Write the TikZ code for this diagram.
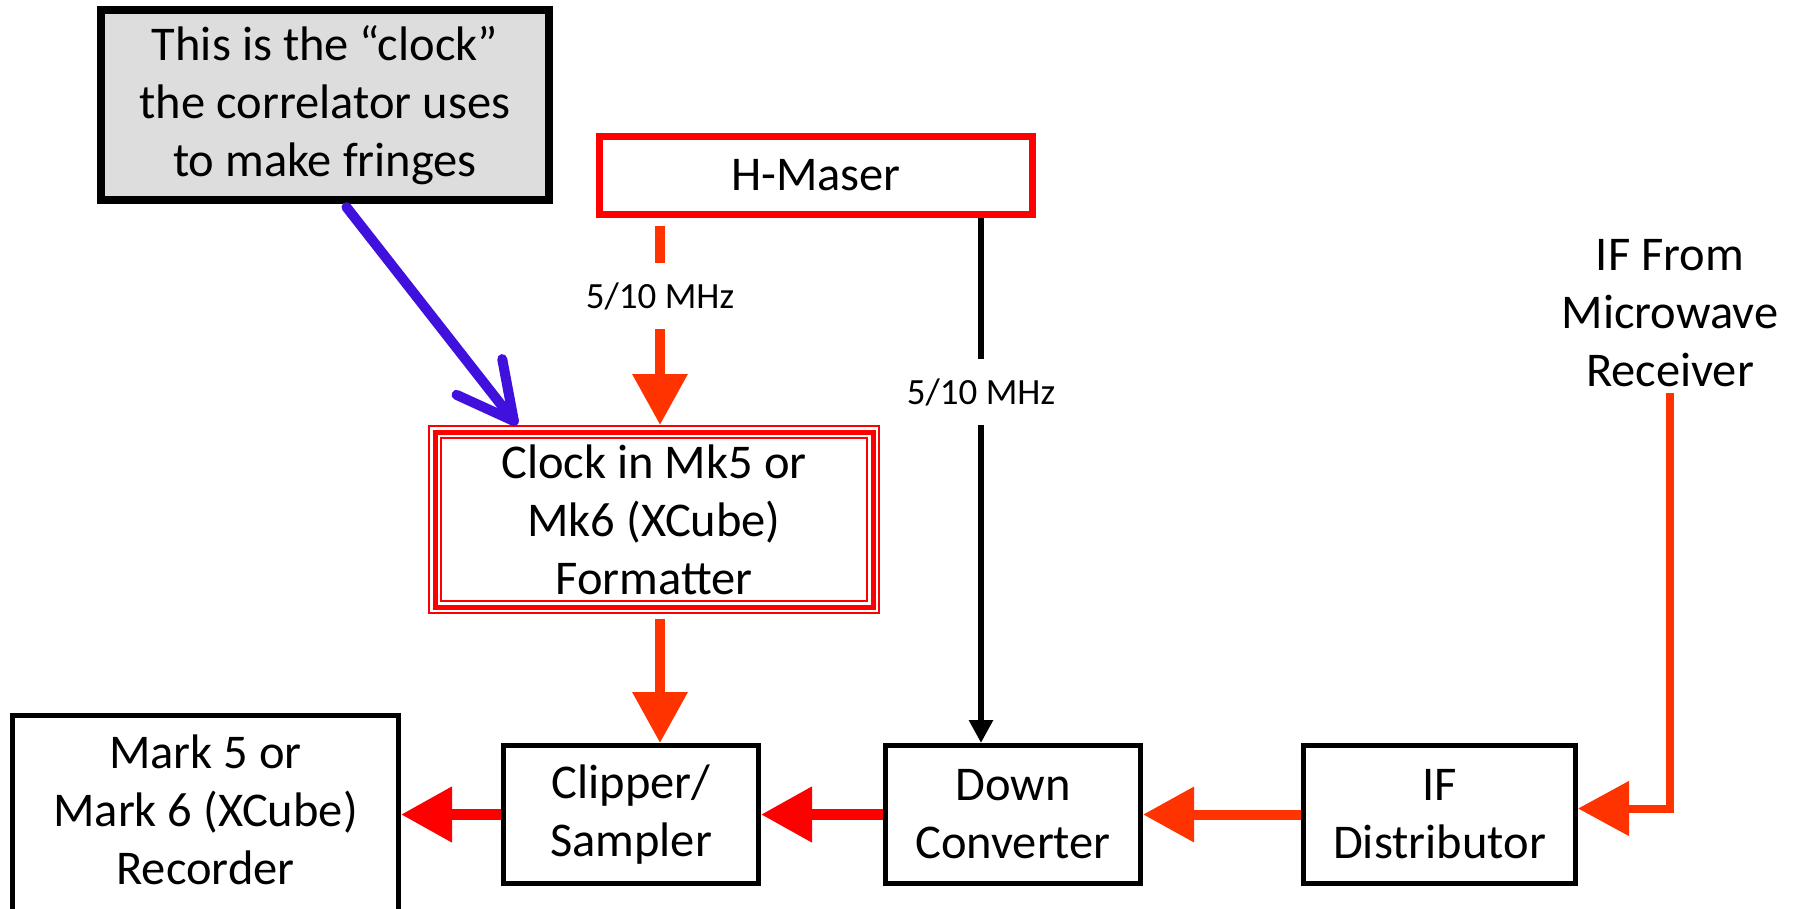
\documentclass[tikz,border=0pt]{standalone}
\usepackage{fontspec}
\setmainfont{Carlito}
\usetikzlibrary{arrows.meta,calc}
\definecolor{myred}{RGB}{255,0,0}
\definecolor{myorange}{RGB}{255,51,0}
\definecolor{myblue}{RGB}{64,16,220}
\definecolor{mygrey}{RGB}{221,221,221}
\tikzset{
  boxtext/.style={font=\fontsize{48.5}{58}\selectfont, align=center},
  plainbox/.style={boxtext, draw=black, line width=5pt, rectangle, inner sep=0pt},
  lbl/.style={font=\fontsize{37}{42}\selectfont, inner sep=0pt, minimum height=66pt},
  bigtip/.style={-{Triangle[length=51pt,width=53pt]}},
  orangearrow/.style={draw=myorange, line width=10pt, bigtip},
  redarrow/.style={draw=myred, line width=11pt, bigtip},
}
\begin{document}
\begin{tikzpicture}[x=1pt,y=-1pt]
\useasboundingbox (0,0) rectangle (1795,908);
% boxes
\node[boxtext, draw=black, fill=mygrey, line width=8pt, minimum width=448pt, minimum height=190pt, inner sep=0pt] (grey) at (325,105)
  {This is the “clock”\\the correlator uses\\to make fringes};
\node[boxtext, draw=myred, line width=7pt, minimum width=433pt, minimum height=78pt, inner sep=0pt] (maser) at (816,175.5) {H-Maser};
\node[boxtext, draw=myred, line width=2pt, minimum width=450pt, minimum height=187pt, inner sep=0pt] (clk) at (654,519.5)
  {Clock in Mk5 or\\Mk6 (XCube)\\Formatter};
\draw[myred, line width=5pt] ($(clk.north west)+(7,7)$) rectangle ($(clk.south east)+(-7,-7)$);
\draw[myred, line width=2pt] ($(clk.north west)+(13,13)$) rectangle ($(clk.south east)+(-13,-13)$);
\node[plainbox, minimum width=255pt, minimum height=138pt] (clip) at (631,814.5) {Clipper/\\Sampler};
\node[plainbox, minimum width=255pt, minimum height=138pt] (down) at (1013,814.5) {Down\\Converter};
\node[plainbox, minimum width=272pt, minimum height=138pt] (ifd) at (1439.5,814.5) {IF\\Distributor};
\node[plainbox, minimum width=386pt, minimum height=200pt] (rec) at (205.5,815) {Mark 5 or\\Mark 6 (XCube)\\Recorder\rule[-10pt]{0pt}{0pt}};
\node[boxtext, inner sep=0pt] (rcv) at (1670,313) {IF From\\Microwave\\Receiver};
% labels
\node[lbl] (l1) at (660,296) {5/10 MHz};
\node[lbl] (l2) at (981,392) {5/10 MHz};
% connectors
\draw[myorange, line width=10pt, shorten <=8pt] (l1.north |- maser.south) -- (l1.north);
\draw[orangearrow] (l1.south) -- (l1.south |- clk.north);
\draw[black, line width=6pt] (l2.north |- maser.south) -- (l2.north);
\draw[black, line width=6pt, -{Triangle[length=23pt,width=23pt]}] (l2.south) -- (l2.south |- down.north);
\coordinate (c1) at (clk.south -| l1);
\draw[orangearrow, shorten <=5pt] (c1) -- (c1 |- clip.north);
\draw[redarrow] (clip.west) -- (rec.east |- clip.west);
\draw[redarrow] (down.west) -- (clip.east);
\draw[orangearrow] (ifd.west) -- (down.east);
\draw[draw=myorange, line width=8pt, -{Triangle[length=51pt,width=53pt]}, shorten <=6pt] (rcv.south) |- ([yshift=6pt]ifd.east);
\draw[myblue, line width=10pt, line cap=round, line join=round, shorten <=4pt,
  -{Straight Barb[length=56pt,width=58pt,line cap=round,line join=round]}]
  ([xshift=19pt]grey.south) -- ([xshift=89pt]clk.north west);
\end{tikzpicture}
\end{document}
